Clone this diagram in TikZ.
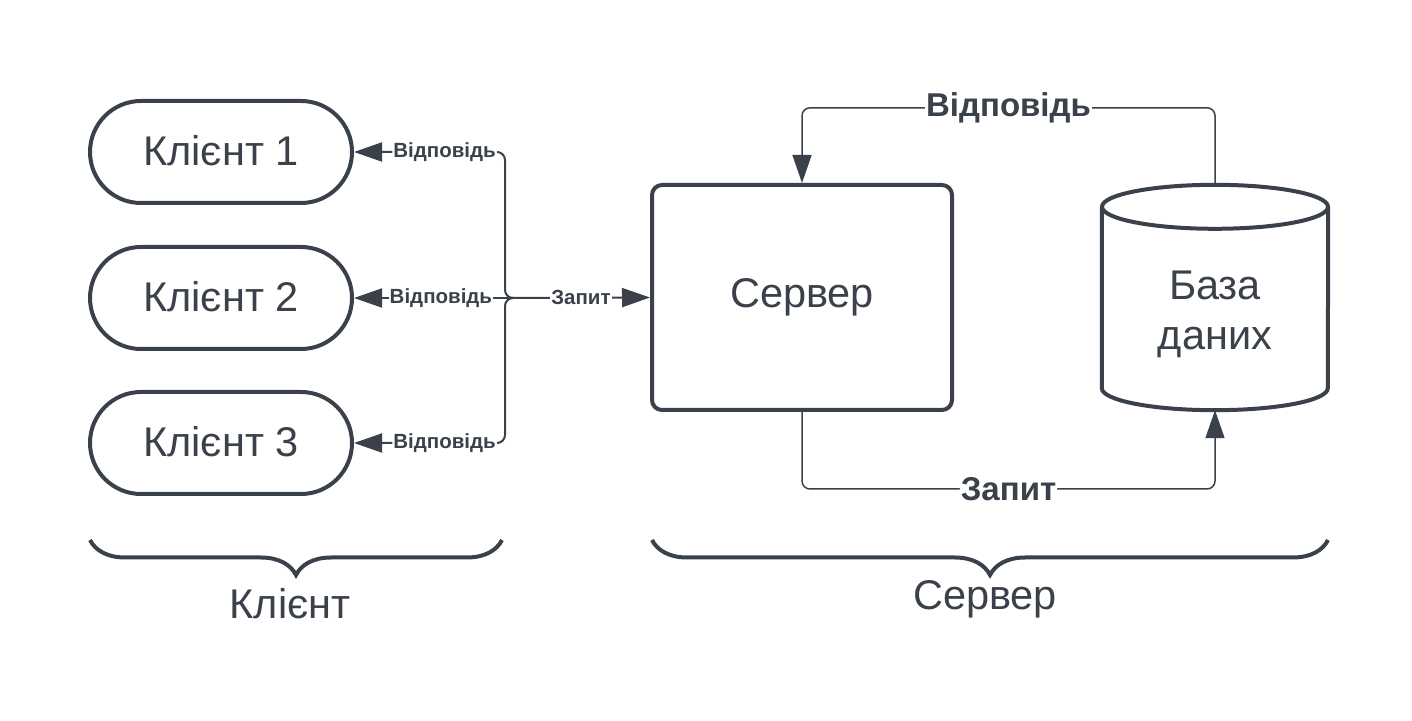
\documentclass[tikz,border=0pt]{standalone}
\usepackage{fontspec}
\setmainfont{Liberation Sans}
\usetikzlibrary{calc, arrows.meta, decorations.pathreplacing}
\definecolor{lucidgray}{HTML}{3A414A}
\tikzstyle{client-pill}=[
draw,
line width=4pt,
rounded corners=51pt,
minimum width=262pt,
minimum height=102pt,
font=\fontsize{41.5}{48}\selectfont,
]
\tikzstyle{server-box}=[
draw,
line width=4pt,
rounded corners=10pt,
minimum width=300pt,
minimum height=225pt,
font=\fontsize{41.5}{48}\selectfont,
]
\tikzstyle{big-label}=[fill=white, inner sep=1pt, font=\bfseries\fontsize{33}{36}\selectfont]
\tikzstyle{small-label}=[fill=white, inner sep=1pt, font=\bfseries\fontsize{20.5}{23}\selectfont]
\tikzstyle{under-brace}=[
decorate,
decoration={brace, amplitude=35pt, aspect=0.5},
line width=4pt,
]

\begin{document}
\begin{tikzpicture}
        [x=1pt, y=1pt, >={Triangle[length=28pt, width=19pt]},
         every path/.style={color=lucidgray}, every node/.style={text=lucidgray}]
        \useasboundingbox (0,0) rectangle (1412,720);

        \node[client-pill] (k1) at (221,568) {\raisebox{4pt}{Клієнт 1}};
        \node[client-pill] (k2) at (221,422) {\raisebox{4pt}{Клієнт 2}};
        \node[client-pill] (k3) at (221,277) {\raisebox{4pt}{Клієнт 3}};

        \node[server-box] (srv) at (802,422.5) {Сервер};

        % database drawn by hand round the node
        \node[minimum width=226pt, minimum height=225pt, inner sep=0pt] (db) at (1215,422.5) {};
        \node[align=center, font=\fontsize{41.5}{50}\selectfont] (dbtext) at ([yshift=-17pt]db.center) {База\\даних};
        \draw[line width=4pt] ($(db.north)+(0,-22)$) ellipse [x radius=113, y radius=22];
        \draw[line width=4pt] ($(db.north west)+(0,-22)$) -- ($(db.south west)+(0,22)$)
          arc[start angle=180, end angle=360, x radius=113, y radius=22] -- ($(db.north east)+(0,-22)$);

        \coordinate (j) at (512,422);

        \draw[->, line width=2pt] (j) -- node[small-label] {Запит} (srv.west);
        \draw[->, line width=2pt, rounded corners=8pt] (j) -| ($(k1.east)+(151,0)$) -- node[small-label, pos=0.4] {Відповідь} (k1.east);
        \draw[->, line width=2pt] (j) -- node[small-label, pos=0.45] {Відповідь} (k2.east);
        \draw[->, line width=2pt, rounded corners=8pt] (j) -| ($(k3.east)+(151,0)$) -- node[small-label, pos=0.4] {Відповідь} (k3.east);

        \draw[->, line width=1.5pt, rounded corners=8pt] (db.north) -- ++(0,77) -| node[big-label, pos=0.25] {Відповідь} (srv.north);
        \draw[->, line width=1.5pt, rounded corners=8pt] (srv.south) -- ++(0,-77) -| node[big-label, pos=0.25] {Запит} (db.south);

        \draw[under-brace] (502,180) -- (90,180);
        \draw[under-brace] (1328,180) -- (652,180);
        \node[font=\fontsize{41.5}{48}\selectfont] (clients) at (290,116) {Клієнт};
        \node[font=\fontsize{41.5}{48}\selectfont] (servers) at (985,121) {Сервер};
      \end{tikzpicture}
\end{document}
